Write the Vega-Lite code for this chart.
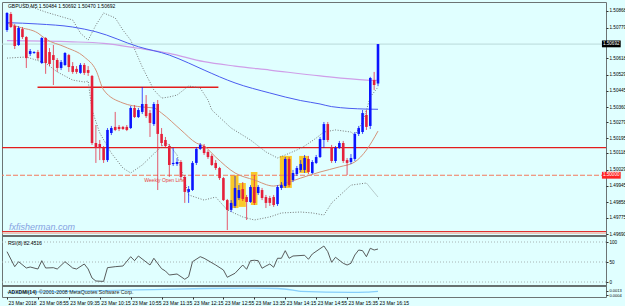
{
  "$schema": "https://vega.github.io/schema/vega-lite/v6.json",
  "width": 604,
  "height": 295,
  "autosize": {"type": "none"},
  "padding": {"left": 2, "top": 2, "right": 19, "bottom": 9},
  "background": "#e0ffff",
  "config": {
    "view": {"stroke": "#6c7474", "strokeWidth": 1, "fill": "#e0ffff"},
    "font": "Liberation Sans",
    "axis": {"grid": false, "domain": false, "labelFont": "Liberation Sans", "labelColor": "#000000", "tickColor": "#303030", "tickSize": 2, "labelPadding": 1, "labelOverlap": false, "labelFlush": false, "labelBound": false}
  },
  "datasets": {
    "candles": [
      {"i":0,"o":1.50766,"h":1.50861,"l":1.50756,"c":1.50856},
      {"i":1,"o":1.50851,"h":1.50861,"l":1.50777,"c":1.50782},
      {"i":2,"o":1.50787,"h":1.50798,"l":1.50666,"c":1.50682},
      {"i":3,"o":1.50687,"h":1.50787,"l":1.50682,"c":1.50777},
      {"i":4,"o":1.50771,"h":1.50782,"l":1.50719,"c":1.50729},
      {"i":5,"o":1.50729,"h":1.50734,"l":1.50566,"c":1.50618},
      {"i":6,"o":1.5064,"h":1.50666,"l":1.50629,"c":1.50655},
      {"i":7,"o":1.50645,"h":1.50655,"l":1.5064,"c":1.5065},
      {"i":8,"o":1.5065,"h":1.50661,"l":1.50608,"c":1.50618},
      {"i":9,"o":1.50592,"h":1.50729,"l":1.50587,"c":1.50724},
      {"i":10,"o":1.50724,"h":1.50729,"l":1.50535,"c":1.50592},
      {"i":11,"o":1.5065,"h":1.50671,"l":1.50576,"c":1.50587},
      {"i":12,"o":1.50634,"h":1.50687,"l":1.50476,"c":1.50608},
      {"i":13,"o":1.50608,"h":1.50618,"l":1.50545,"c":1.50566},
      {"i":14,"o":1.50566,"h":1.50608,"l":1.50555,"c":1.50597},
      {"i":15,"o":1.50582,"h":1.5065,"l":1.50576,"c":1.50645},
      {"i":16,"o":1.50634,"h":1.5064,"l":1.50545,"c":1.50571},
      {"i":17,"o":1.50576,"h":1.50597,"l":1.50535,"c":1.50545},
      {"i":18,"o":1.50561,"h":1.50576,"l":1.50535,"c":1.50545},
      {"i":19,"o":1.5054,"h":1.50592,"l":1.50535,"c":1.50582},
      {"i":20,"o":1.50582,"h":1.50592,"l":1.50529,"c":1.5054},
      {"i":21,"o":1.50555,"h":1.50576,"l":1.50524,"c":1.5054},
      {"i":22,"o":1.50524,"h":1.50529,"l":1.5016,"c":1.5017},
      {"i":23,"o":1.5017,"h":1.50265,"l":1.50065,"c":1.50144},
      {"i":24,"o":1.50165,"h":1.50186,"l":1.5008,"c":1.50144},
      {"i":25,"o":1.50144,"h":1.50154,"l":1.50065,"c":1.5008},
      {"i":26,"o":1.5008,"h":1.50249,"l":1.5007,"c":1.50239},
      {"i":27,"o":1.50223,"h":1.5026,"l":1.50212,"c":1.50249},
      {"i":28,"o":1.50255,"h":1.50334,"l":1.50233,"c":1.50239},
      {"i":29,"o":1.50255,"h":1.50265,"l":1.50233,"c":1.50244},
      {"i":30,"o":1.50255,"h":1.5026,"l":1.50239,"c":1.50244},
      {"i":31,"o":1.50255,"h":1.50265,"l":1.50233,"c":1.50239},
      {"i":32,"o":1.50249,"h":1.50365,"l":1.50244,"c":1.50355},
      {"i":33,"o":1.50355,"h":1.5037,"l":1.50302,"c":1.50307},
      {"i":34,"o":1.50307,"h":1.50355,"l":1.50302,"c":1.50344},
      {"i":35,"o":1.50334,"h":1.50465,"l":1.50323,"c":1.50376},
      {"i":36,"o":1.50376,"h":1.50423,"l":1.50302,"c":1.50312},
      {"i":37,"o":1.50328,"h":1.50344,"l":1.50202,"c":1.50276},
      {"i":38,"o":1.5027,"h":1.50386,"l":1.5026,"c":1.50376},
      {"i":39,"o":1.50376,"h":1.50397,"l":1.49922,"c":1.50218},
      {"i":40,"o":1.50218,"h":1.50249,"l":1.50154,"c":1.5017},
      {"i":41,"o":1.50186,"h":1.50202,"l":1.50144,"c":1.50154},
      {"i":42,"o":1.50154,"h":1.50165,"l":1.49991,"c":1.50054},
      {"i":43,"o":1.50059,"h":1.50144,"l":1.50049,"c":1.50065},
      {"i":44,"o":1.50059,"h":1.50091,"l":1.50049,"c":1.5007},
      {"i":45,"o":1.5007,"h":1.5008,"l":1.49975,"c":1.49991},
      {"i":46,"o":1.49991,"h":1.50001,"l":1.49854,"c":1.49912},
      {"i":47,"o":1.49912,"h":1.49943,"l":1.49854,"c":1.49927},
      {"i":48,"o":1.49922,"h":1.50075,"l":1.49917,"c":1.50065},
      {"i":49,"o":1.50065,"h":1.50149,"l":1.50054,"c":1.50139},
      {"i":50,"o":1.50139,"h":1.5017,"l":1.50133,"c":1.5016},
      {"i":51,"o":1.50154,"h":1.50165,"l":1.50107,"c":1.50117},
      {"i":52,"o":1.50123,"h":1.50133,"l":1.50086,"c":1.50096},
      {"i":53,"o":1.50102,"h":1.50112,"l":1.50049,"c":1.50054},
      {"i":54,"o":1.50065,"h":1.5008,"l":1.50028,"c":1.50038},
      {"i":55,"o":1.50038,"h":1.50044,"l":1.49975,"c":1.49985},
      {"i":56,"o":1.49985,"h":1.49991,"l":1.49864,"c":1.49869},
      {"i":57,"o":1.49869,"h":1.49875,"l":1.49711,"c":1.49817},
      {"i":58,"o":1.49817,"h":1.49869,"l":1.49806,"c":1.49854},
      {"i":59,"o":1.49838,"h":1.49996,"l":1.49827,"c":1.49933},
      {"i":60,"o":1.4988,"h":1.49948,"l":1.49869,"c":1.49922},
      {"i":61,"o":1.49927,"h":1.49964,"l":1.49864,"c":1.49875},
      {"i":62,"o":1.49885,"h":1.49896,"l":1.49764,"c":1.49859},
      {"i":63,"o":1.49859,"h":1.49948,"l":1.49854,"c":1.49938},
      {"i":64,"o":1.49938,"h":1.50001,"l":1.49843,"c":1.49854},
      {"i":65,"o":1.49906,"h":1.49948,"l":1.49896,"c":1.49938},
      {"i":66,"o":1.49922,"h":1.49933,"l":1.49869,"c":1.4988},
      {"i":67,"o":1.49885,"h":1.49896,"l":1.49827,"c":1.49854},
      {"i":68,"o":1.4988,"h":1.49891,"l":1.49838,"c":1.49854},
      {"i":69,"o":1.49885,"h":1.49896,"l":1.49833,"c":1.49843},
      {"i":70,"o":1.49848,"h":1.49948,"l":1.49838,"c":1.49938},
      {"i":71,"o":1.49933,"h":1.49964,"l":1.49922,"c":1.49948},
      {"i":72,"o":1.49943,"h":1.50096,"l":1.49933,"c":1.50086},
      {"i":73,"o":1.50086,"h":1.50096,"l":1.49938,"c":1.49948},
      {"i":74,"o":1.49975,"h":1.50028,"l":1.49964,"c":1.50012},
      {"i":75,"o":1.50006,"h":1.50049,"l":1.49996,"c":1.50038},
      {"i":76,"o":1.50028,"h":1.5008,"l":1.50017,"c":1.50059},
      {"i":77,"o":1.50028,"h":1.50107,"l":1.50012,"c":1.50091},
      {"i":78,"o":1.50086,"h":1.50102,"l":1.50006,"c":1.50017},
      {"i":79,"o":1.50012,"h":1.5008,"l":1.50006,"c":1.5007},
      {"i":80,"o":1.50065,"h":1.50107,"l":1.50059,"c":1.50096},
      {"i":81,"o":1.50096,"h":1.50202,"l":1.50091,"c":1.50191},
      {"i":82,"o":1.50186,"h":1.50281,"l":1.50144,"c":1.5027},
      {"i":83,"o":1.5027,"h":1.50281,"l":1.50175,"c":1.50186},
      {"i":84,"o":1.50149,"h":1.5016,"l":1.50065,"c":1.50075},
      {"i":85,"o":1.50075,"h":1.50154,"l":1.50065,"c":1.50144},
      {"i":86,"o":1.50144,"h":1.50181,"l":1.50139,"c":1.5017},
      {"i":87,"o":1.5017,"h":1.50181,"l":1.50065,"c":1.50075},
      {"i":88,"o":1.5008,"h":1.50091,"l":1.50001,"c":1.50065},
      {"i":89,"o":1.5007,"h":1.50112,"l":1.50059,"c":1.50091},
      {"i":90,"o":1.50086,"h":1.50228,"l":1.50075,"c":1.50218},
      {"i":91,"o":1.50218,"h":1.5026,"l":1.50207,"c":1.50249},
      {"i":92,"o":1.50228,"h":1.50344,"l":1.50218,"c":1.50328},
      {"i":93,"o":1.50318,"h":1.50344,"l":1.50239,"c":1.50255},
      {"i":94,"o":1.5026,"h":1.50519,"l":1.50244,"c":1.50513},
      {"i":95,"o":1.50502,"h":1.50545,"l":1.5045,"c":1.50476},
      {"i":96,"o":1.50484,"h":1.50692,"l":1.5047,"c":1.50692}
    ],
    "bbu": [
      {"i":2,"p":1.5094},{"i":5,"p":1.50898},{"i":10,"p":1.50861},{"i":17,"p":1.50819},{"i":19,"p":1.5075},{"i":21,"p":1.50713},{"i":23,"p":1.50792},{"i":25,"p":1.50856},{"i":28,"p":1.5083},{"i":30,"p":1.50766},{"i":32,"p":1.50713},{"i":35,"p":1.50571},{"i":38,"p":1.5045},{"i":40,"p":1.50407},{"i":42,"p":1.50413},{"i":44,"p":1.50423},{"i":47,"p":1.50471},{"i":50,"p":1.5046},{"i":52,"p":1.50397},{"i":53,"p":1.50344},{"i":58,"p":1.50249},{"i":63,"p":1.50186},{"i":67,"p":1.50123},{"i":70,"p":1.50091},{"i":72,"p":1.50107},{"i":75,"p":1.50133},{"i":77,"p":1.50154},{"i":80,"p":1.50196},{"i":82,"p":1.50228},{"i":85,"p":1.50239},{"i":89,"p":1.50228},{"i":90,"p":1.50212},{"i":92,"p":1.50281},{"i":93,"p":1.50344},{"i":94,"p":1.50413},{"i":96,"p":1.50465}
    ],
    "bbl": [
      {"i":0,"p":1.50618},{"i":5,"p":1.50624},{"i":10,"p":1.50592},{"i":13,"p":1.50545},{"i":17,"p":1.50502},{"i":20,"p":1.50492},{"i":21,"p":1.50497},{"i":22,"p":1.50344},{"i":24,"p":1.50223},{"i":27,"p":1.50117},{"i":30,"p":1.50038},{"i":32,"p":1.50012},{"i":35,"p":1.50054},{"i":39,"p":1.50133},{"i":41,"p":1.5017},{"i":42,"p":1.5016},{"i":44,"p":1.50107},{"i":47,"p":1.49896},{"i":51,"p":1.49869},{"i":54,"p":1.49885},{"i":57,"p":1.49817},{"i":61,"p":1.4978},{"i":64,"p":1.49764},{"i":68,"p":1.4978},{"i":71,"p":1.49801},{"i":76,"p":1.49806},{"i":79,"p":1.49801},{"i":82,"p":1.4979},{"i":84,"p":1.49854},{"i":89,"p":1.49948},{"i":93,"p":1.49959},{"i":96,"p":1.49885}
    ],
    "maBlue": [
      {"i":0,"p":1.50805},{"i":8,"p":1.50798},{"i":17,"p":1.50782},{"i":23,"p":1.50757},{"i":34,"p":1.50678},{"i":42,"p":1.50634},{"i":47,"p":1.50592},{"i":51,"p":1.50555},{"i":59,"p":1.50487},{"i":68,"p":1.50434},{"i":76,"p":1.50394},{"i":81,"p":1.50376},{"i":84,"p":1.50362},{"i":93,"p":1.50349},{"i":96,"p":1.50348}
    ],
    "maPurple": [
      {"i":0,"p":1.5071},{"i":17,"p":1.50704},{"i":25,"p":1.50696},{"i":34,"p":1.5067},{"i":42,"p":1.50643},{"i":51,"p":1.50599},{"i":59,"p":1.50576},{"i":68,"p":1.50555},{"i":81,"p":1.50524},{"i":93,"p":1.50502},{"i":96,"p":1.505}
    ],
    "maTan": [
      {"i":0,"p":1.50803},{"i":3,"p":1.50782},{"i":8,"p":1.5075},{"i":10,"p":1.50719},{"i":15,"p":1.50677},{"i":20,"p":1.50624},{"i":23,"p":1.50555},{"i":25,"p":1.5045},{"i":30,"p":1.50381},{"i":35,"p":1.5036},{"i":38,"p":1.50355},{"i":40,"p":1.50328},{"i":45,"p":1.50239},{"i":49,"p":1.5017},{"i":51,"p":1.50154},{"i":54,"p":1.50096},{"i":59,"p":1.50012},{"i":64,"p":1.49975},{"i":69,"p":1.49943},{"i":73,"p":1.49964},{"i":76,"p":1.49985},{"i":81,"p":1.50017},{"i":86,"p":1.50044},{"i":90,"p":1.5007},{"i":93,"p":1.50133},{"i":96,"p":1.50233}
    ],
    "boxes": [
      {"x1":57.8,"x2":59.9,"p1":1.50001,"p2":1.49827},
      {"x1":59.9,"x2":61.8,"p1":1.49959,"p2":1.49833},
      {"x1":63.1,"x2":64.8,"p1":1.50017,"p2":1.49843},
      {"x1":70.6,"x2":73.7,"p1":1.50102,"p2":1.49933},
      {"x1":75.6,"x2":77.9,"p1":1.50102,"p2":1.50012}
    ],
    "rsi": [
      {"i":0,"v":75.8},{"i":2,"v":38.3},{"i":3,"v":50.8},{"i":5,"v":35},{"i":6,"v":37.5},{"i":8,"v":32.5},{"i":9,"v":53.3},{"i":10,"v":35},{"i":12,"v":35.8},{"i":13,"v":32.5},{"i":15,"v":50.8},{"i":17,"v":35},{"i":18,"v":32.5},{"i":20,"v":45},{"i":21,"v":32.5},{"i":22,"v":10},{"i":23,"v":2.5},{"i":25,"v":1.5},{"i":26,"v":35.8},{"i":28,"v":38.3},{"i":30,"v":40},{"i":32,"v":63.3},{"i":33,"v":53.3},{"i":34,"v":65},{"i":37,"v":42.5},{"i":38,"v":59.3},{"i":40,"v":33.3},{"i":41,"v":27.5},{"i":42,"v":17.5},{"i":44,"v":20},{"i":46,"v":6.8},{"i":47,"v":13.3},{"i":48,"v":50.8},{"i":50,"v":63.3},{"i":51,"v":59.3},{"i":54,"v":42.5},{"i":56,"v":30},{"i":57,"v":11.8},{"i":59,"v":21.8},{"i":61,"v":42.5},{"i":62,"v":31.8},{"i":63,"v":53.3},{"i":64,"v":54.3},{"i":65,"v":53.3},{"i":66,"v":34.3},{"i":67,"v":40},{"i":68,"v":45},{"i":69,"v":36.8},{"i":70,"v":59.3},{"i":71,"v":59.3},{"i":72,"v":78.3},{"i":73,"v":59.3},{"i":74,"v":65},{"i":77,"v":66.8},{"i":78,"v":56.8},{"i":79,"v":70},{"i":82,"v":90},{"i":83,"v":75.8},{"i":84,"v":49.3},{"i":85,"v":61.8},{"i":87,"v":46.8},{"i":88,"v":42.5},{"i":89,"v":46.8},{"i":90,"v":67.5},{"i":91,"v":80},{"i":92,"v":78.3},{"i":93,"v":63.3},{"i":94,"v":84.3},{"i":95,"v":80},{"i":96,"v":82.45}
    ],
    "rsiLevels": [{"lv":0},{"lv":50},{"lv":100}],
    "separators": [{"v":115},{"v":-10}],
    "adx": [
      {"i":0,"v":0.00095},{"i":13,"v":0.0011},{"i":25,"v":0.0013},{"i":38,"v":0.0015},{"i":51,"v":0.0017},{"i":63,"v":0.00176},{"i":70,"v":0.0017},{"i":74,"v":0.0014},{"i":76,"v":0.00115},{"i":89,"v":0.00095},{"i":93,"v":0.001},{"i":96,"v":0.00115}
    ],
    "one": [{"k":1}]
  },
  "layer": [
    {
      "data": {"name": "boxes"},
      "mark": {"type": "rect", "color": "#f9c92a"},
      "encoding": {
        "x": {"field": "x1", "type": "quantitative", "scale": {"domain": [0, 153.7], "nice": false, "zero": false},
          "axis": {"orient": "bottom", "values": [0, 8, 16, 24, 32, 40, 48, 56, 64, 72, 80, 88, 96], "labelExpr": "['23 Mar 2018','23 Mar 08:55','23 Mar 09:35','23 Mar 10:15','23 Mar 10:55','23 Mar 11:35','23 Mar 12:15','23 Mar 12:55','23 Mar 13:35','23 Mar 14:15','23 Mar 14:55','23 Mar 15:35','23 Mar 16:15'][round(datum.value/8)]", "labelAlign": "left", "labelBaseline": "top", "labelFontSize": 5, "labelPadding": 1, "labelOffset": 1, "title": null}},
        "x2": {"field": "x2"},
        "y": {"field": "p1", "type": "quantitative", "scale": {"domain": [1.4968, 1.50914], "range": [233.9, 0], "nice": false, "zero": false},
          "axis": {"orient": "right", "values": [1.50868, 1.50779, 1.50618, 1.50529, 1.50445, 1.5036, 1.50279, 1.50195, 1.50118, 1.50029, 1.49945, 1.49858, 1.49775, 1.4969], "format": ".5f", "labelFontSize": 4.6, "labelBaseline": "middle", "labelAlign": "left", "title": null}},
        "y2": {"field": "p2"}
      }
    },
    {
      "data": {"name": "one"},
      "mark": {"type": "rule", "color": "#b9dada", "strokeWidth": 1},
      "encoding": {"y": {"datum": 1.50692, "type": "quantitative", "scale": {"domain": [1.4968, 1.50914], "range": [233.9, 0], "nice": false, "zero": false}, "axis": null}}
    },
    {
      "data": {"name": "one"},
      "mark": {"type": "rule", "color": "#e31c1c", "strokeWidth": 1.4},
      "encoding": {
        "x": {"datum": 7.9, "type": "quantitative", "axis": null},
        "x2": {"datum": 54.7},
        "y": {"datum": 1.50464, "type": "quantitative", "scale": {"domain": [1.4968, 1.50914], "range": [233.9, 0], "nice": false, "zero": false}, "axis": null}
      }
    },
    {
      "data": {"name": "one"},
      "mark": {"type": "rule", "color": "#e31c1c", "strokeWidth": 1.3},
      "encoding": {"y": {"datum": 1.50146, "type": "quantitative", "scale": {"domain": [1.4968, 1.50914], "range": [233.9, 0], "nice": false, "zero": false}, "axis": null}}
    },
    {
      "data": {"name": "one"},
      "mark": {"type": "rule", "color": "#f27a5e", "strokeWidth": 1.2, "strokeDash": [5, 2]},
      "encoding": {"y": {"datum": 1.5, "type": "quantitative", "scale": {"domain": [1.4968, 1.50914], "range": [233.9, 0], "nice": false, "zero": false}, "axis": null}}
    },
    {
      "data": {"name": "one"},
      "mark": {"type": "rule", "color": "#e32a2a", "strokeWidth": 1},
      "encoding": {"y": {"datum": 1.49703, "type": "quantitative", "scale": {"domain": [1.4968, 1.50914], "range": [233.9, 0], "nice": false, "zero": false}, "axis": null}}
    },
    {
      "data": {"name": "one"},
      "mark": {"type": "rule", "color": "#f59a86", "strokeWidth": 1},
      "encoding": {"y": {"datum": 1.49695, "type": "quantitative", "scale": {"domain": [1.4968, 1.50914], "range": [233.9, 0], "nice": false, "zero": false}, "axis": null}}
    },
    {
      "data": {"name": "bbu"},
      "mark": {"type": "line", "color": "#6a6a6a", "strokeWidth": 0.9, "strokeDash": [1, 1.6], "clip": true},
      "encoding": {
        "x": {"field": "i", "type": "quantitative", "axis": null},
        "y": {"field": "p", "type": "quantitative", "scale": {"domain": [1.4968, 1.50914], "range": [233.9, 0], "nice": false, "zero": false}, "axis": null}
      }
    },
    {
      "data": {"name": "bbl"},
      "mark": {"type": "line", "color": "#6a6a6a", "strokeWidth": 0.9, "strokeDash": [1, 1.6]},
      "encoding": {
        "x": {"field": "i", "type": "quantitative", "axis": null},
        "y": {"field": "p", "type": "quantitative", "scale": {"domain": [1.4968, 1.50914], "range": [233.9, 0], "nice": false, "zero": false}, "axis": null}
      }
    },
    {
      "data": {"name": "maPurple"},
      "mark": {"type": "line", "color": "#cf9ee8", "strokeWidth": 1.2, "interpolate": "monotone"},
      "encoding": {
        "x": {"field": "i", "type": "quantitative", "axis": null},
        "y": {"field": "p", "type": "quantitative", "scale": {"domain": [1.4968, 1.50914], "range": [233.9, 0], "nice": false, "zero": false}, "axis": null}
      }
    },
    {
      "data": {"name": "maBlue"},
      "mark": {"type": "line", "color": "#4a5cf0", "strokeWidth": 1, "interpolate": "monotone"},
      "encoding": {
        "x": {"field": "i", "type": "quantitative", "axis": null},
        "y": {"field": "p", "type": "quantitative", "scale": {"domain": [1.4968, 1.50914], "range": [233.9, 0], "nice": false, "zero": false}, "axis": null}
      }
    },
    {
      "data": {"name": "maTan"},
      "mark": {"type": "line", "color": "#d4937a", "strokeWidth": 1, "interpolate": "monotone"},
      "encoding": {
        "x": {"field": "i", "type": "quantitative", "axis": null},
        "y": {"field": "p", "type": "quantitative", "scale": {"domain": [1.4968, 1.50914], "range": [233.9, 0], "nice": false, "zero": false}, "axis": null}
      }
    },
    {
      "data": {"name": "candles"},
      "mark": {"type": "rule", "strokeWidth": 1, "opacity": 0.75},
      "encoding": {
        "x": {"field": "i", "type": "quantitative", "axis": null},
        "y": {"field": "l", "type": "quantitative", "scale": {"domain": [1.4968, 1.50914], "range": [233.9, 0], "nice": false, "zero": false}, "axis": null},
        "y2": {"field": "h"},
        "color": {"condition": {"test": "datum.c >= datum.o", "value": "#0a14ff"}, "value": "#e5203a"}
      }
    },
    {
      "data": {"name": "candles"},
      "mark": {"type": "bar", "size": 2.6},
      "encoding": {
        "x": {"field": "i", "type": "quantitative", "axis": null},
        "y": {"field": "o", "type": "quantitative", "scale": {"domain": [1.4968, 1.50914], "range": [233.9, 0], "nice": false, "zero": false}, "axis": null},
        "y2": {"field": "c"},
        "color": {"condition": {"test": "datum.c >= datum.o", "value": "#0a14ff"}, "value": "#e5203a"}
      }
    },
    {
      "data": {"name": "one"},
      "mark": {"type": "text", "text": "GBPUSD,M5  1.50484 1.50692 1.50470 1.50692", "align": "left", "baseline": "middle", "fontSize": 5, "color": "#000000"},
      "encoding": {
        "x": {"datum": 0.25, "type": "quantitative", "axis": null},
        "y": {"datum": 1.50895, "type": "quantitative", "scale": {"domain": [1.4968, 1.50914], "range": [233.9, 0], "nice": false, "zero": false}, "axis": null}
      }
    },
    {
      "data": {"name": "one"},
      "mark": {"type": "text", "text": "fxfisherman.com", "align": "left", "baseline": "middle", "fontSize": 9, "fontStyle": "italic", "color": "#86a2e2"},
      "encoding": {
        "x": {"datum": 0.5, "type": "quantitative", "axis": null},
        "y": {"datum": 1.49729, "type": "quantitative", "scale": {"domain": [1.4968, 1.50914], "range": [233.9, 0], "nice": false, "zero": false}, "axis": null}
      }
    },
    {
      "data": {"name": "one"},
      "mark": {"type": "text", "text": "Weekly Open Line", "align": "left", "baseline": "middle", "fontSize": 5, "color": "#e8413c"},
      "encoding": {
        "x": {"datum": 35.5, "type": "quantitative", "axis": null},
        "y": {"datum": 1.49975, "type": "quantitative", "scale": {"domain": [1.4968, 1.50914], "range": [233.9, 0], "nice": false, "zero": false}, "axis": null}
      }
    },
    {
      "data": {"name": "one"},
      "mark": {"type": "rect", "color": "#000000"},
      "encoding": {
        "x": {"datum": 153.94, "type": "quantitative", "axis": null},
        "x2": {"datum": 158.8},
        "y": {"datum": 1.50711, "type": "quantitative", "scale": {"domain": [1.4968, 1.50914], "range": [233.9, 0], "nice": false, "zero": false}, "axis": null},
        "y2": {"datum": 1.50675}
      }
    },
    {
      "data": {"name": "one"},
      "mark": {"type": "text", "text": "1.50692", "align": "left", "baseline": "middle", "fontSize": 4.6, "color": "#ffffff"},
      "encoding": {
        "x": {"datum": 154.2, "type": "quantitative", "axis": null},
        "y": {"datum": 1.50693, "type": "quantitative", "scale": {"domain": [1.4968, 1.50914], "range": [233.9, 0], "nice": false, "zero": false}, "axis": null}
      }
    },
    {
      "data": {"name": "one"},
      "mark": {"type": "rect", "color": "#ff2424"},
      "encoding": {
        "x": {"datum": 153.94, "type": "quantitative", "axis": null},
        "x2": {"datum": 158.8},
        "y": {"datum": 1.50018, "type": "quantitative", "scale": {"domain": [1.4968, 1.50914], "range": [233.9, 0], "nice": false, "zero": false}, "axis": null},
        "y2": {"datum": 1.49982}
      }
    },
    {
      "data": {"name": "one"},
      "mark": {"type": "text", "text": "1.50000", "align": "left", "baseline": "middle", "fontSize": 4.6, "color": "#ffffff"},
      "encoding": {
        "x": {"datum": 154.2, "type": "quantitative", "axis": null},
        "y": {"datum": 1.5, "type": "quantitative", "scale": {"domain": [1.4968, 1.50914], "range": [233.9, 0], "nice": false, "zero": false}, "axis": null}
      }
    },
    {
      "data": {"name": "rsiLevels"},
      "mark": {"type": "rule", "color": "#a8b4b4", "strokeWidth": 1, "strokeDash": [1, 2]},
      "encoding": {
        "y": {"field": "lv", "type": "quantitative", "scale": {"domain": [0, 100], "range": [280, 240], "nice": false, "zero": false},
          "axis": {"orient": "right", "values": [0, 50, 100], "labelFontSize": 4.6, "labelBaseline": "middle", "labelAlign": "left", "title": null}}
      }
    },
    {
      "data": {"name": "separators"},
      "mark": {"type": "rule", "color": "#66706f", "strokeWidth": 2},
      "encoding": {
        "y": {"field": "v", "type": "quantitative", "scale": {"domain": [0, 100], "range": [280, 240], "nice": false, "zero": false}, "axis": null}
      }
    },
    {
      "data": {"name": "rsi"},
      "mark": {"type": "line", "color": "#4a4a4a", "strokeWidth": 0.9},
      "encoding": {
        "x": {"field": "i", "type": "quantitative", "axis": null},
        "y": {"field": "v", "type": "quantitative", "scale": {"domain": [0, 100], "range": [280, 240], "nice": false, "zero": false}, "axis": null}
      }
    },
    {
      "data": {"name": "one"},
      "mark": {"type": "text", "text": "RSI(8) 82.4516", "align": "left", "baseline": "middle", "fontSize": 5, "color": "#000000"},
      "encoding": {
        "x": {"datum": 0.25, "type": "quantitative", "axis": null},
        "y": {"datum": 98.5, "type": "quantitative", "scale": {"domain": [0, 100], "range": [280, 240], "nice": false, "zero": false}, "axis": null}
      }
    },
    {
      "data": {"name": "adx"},
      "mark": {"type": "line", "color": "#87cefa", "strokeWidth": 1.3, "interpolate": "monotone"},
      "encoding": {
        "x": {"field": "i", "type": "quantitative", "axis": null},
        "y": {"field": "v", "type": "quantitative", "scale": {"domain": [0.0004, 0.0013], "range": [293.3, 288.6], "nice": false, "zero": false},
          "axis": {"orient": "right", "values": [0.0004, 0.0013], "format": ".4f", "labelFontSize": 4, "labelBaseline": "middle", "labelAlign": "left", "title": null}}
      }
    },
    {
      "data": {"name": "one"},
      "mark": {"type": "text", "text": "ADXDMI(14)", "align": "left", "baseline": "middle", "fontSize": 5, "fontWeight": "bold", "color": "#1a1a1a"},
      "encoding": {
        "x": {"datum": 0.25, "type": "quantitative", "axis": null},
        "y": {"datum": 0.00108, "type": "quantitative", "scale": {"domain": [0.0004, 0.0013], "range": [293.3, 288.6], "nice": false, "zero": false}, "axis": null}
      }
    },
    {
      "data": {"name": "one"},
      "mark": {"type": "text", "text": "©2001-2008 MetaQuotes Software Corp.", "align": "left", "baseline": "middle", "fontSize": 5.2, "color": "#1a1a1a"},
      "encoding": {
        "x": {"datum": 8.3, "type": "quantitative", "axis": null},
        "y": {"datum": 0.00108, "type": "quantitative", "scale": {"domain": [0.0004, 0.0013], "range": [293.3, 288.6], "nice": false, "zero": false}, "axis": null}
      }
    }
  ],
  "resolve": {"scale": {"y": "independent"}, "axis": {"x": "independent", "y": "independent"}}
}
